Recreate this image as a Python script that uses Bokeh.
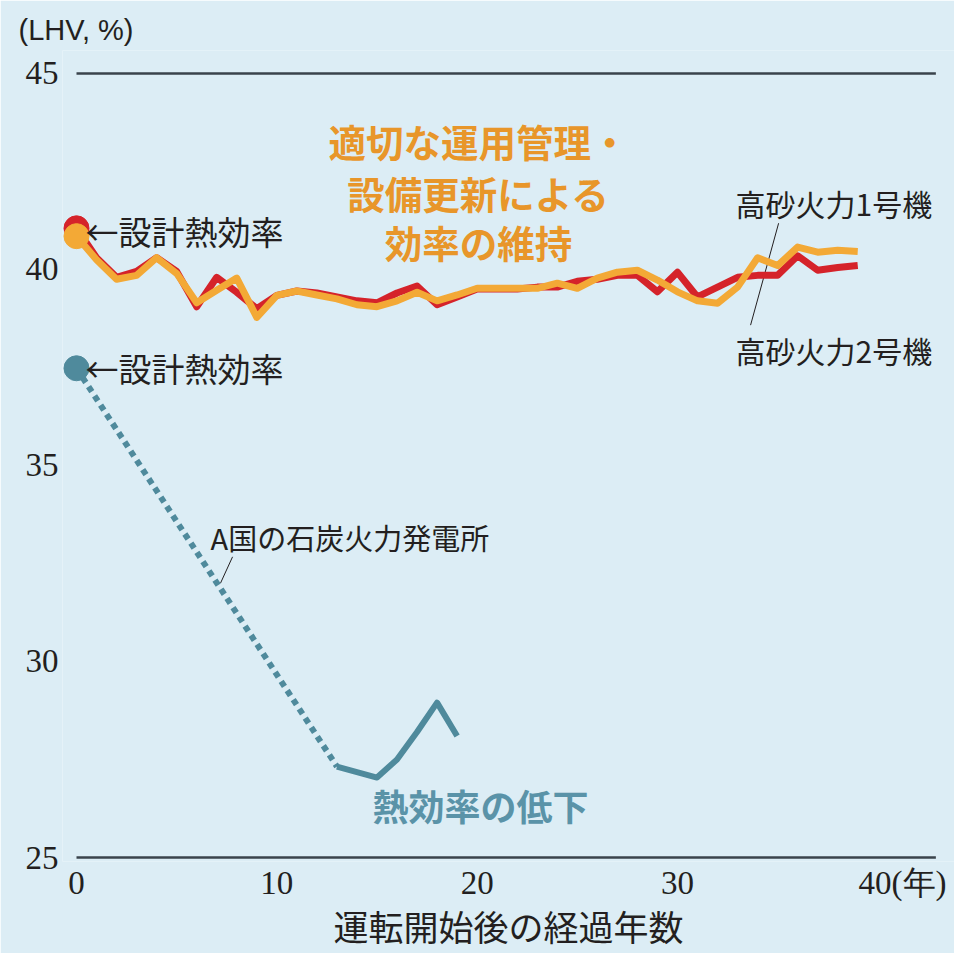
from bokeh.plotting import figure
from bokeh.models import FixedTicker, Range1d
from bokeh.core.properties import value
from bokeh.embed import file_html
from bokeh.resources import INLINE

# ---- data ----
years = list(range(40))
unit1 = [41.05, 40.3, 39.8, 39.95, 40.3, 39.95, 39.05, 39.8, 39.42, 39.0,
         39.34, 39.45, 39.4, 39.3, 39.2, 39.15, 39.4, 39.58, 39.1, 39.3,
         39.5, 39.5, 39.5, 39.55, 39.55, 39.7, 39.75, 39.85, 39.85, 39.43,
         39.93, 39.3, 39.55, 39.8, 39.85, 39.85, 40.35, 39.98, 40.05, 40.1]
unit2 = [40.85, 40.25, 39.75, 39.85, 40.3, 39.9, 39.15, 39.47, 39.78, 38.78,
         39.34, 39.45, 39.35, 39.25, 39.1, 39.05, 39.2, 39.42, 39.2, 39.35,
         39.52, 39.52, 39.52, 39.52, 39.65, 39.52, 39.78, 39.93, 39.98, 39.73,
         39.43, 39.2, 39.14, 39.55, 40.3, 40.1, 40.57, 40.44, 40.49, 40.46]
a_trend_years = [0, 13]
a_trend_vals = [37.48, 27.32]
a_years = [13, 14, 15, 16, 17, 18, 19]
a_vals = [27.32, 27.18, 27.04, 27.5, 28.2, 28.95, 28.1]
x_ticks = [0, 10, 20, 30, 40]
y_ticks = [25, 30, 35, 40, 45]
x_unit = "(年)"
y_unit = "(LHV, %)"

# ---- style ----
BG = "#dcedf5"
DARK = "#231f20"
RED = "#d5232a"
ORANGE = "#f3a936"
ORANGE_TXT = "#e8962a"
TEAL = "#4f8a9c"
TEAL_TXT = "#5a93a8"
JP = "Noto Sans CJK JP"
XLINE_END = 42.9

p = figure(width=954, height=953, output_backend="svg", toolbar_location=None,
           x_range=Range1d(-0.699, 43.83), y_range=Range1d(24.898, 45.586),
           min_border_left=62, min_border_right=0, min_border_top=50,
           min_border_bottom=91)
p.background_fill_color = BG
p.border_fill_color = BG
p.outline_line_color = None
p.xgrid.visible = False
p.ygrid.visible = False

p.title.text = y_unit
p.title.align = "left"
p.title.offset = -44
p.title.standoff = 10
p.title.text_font = "Liberation Sans"
p.title.text_font_size = "29px"
p.title.text_font_style = "normal"
p.title.text_color = DARK

for ax in (p.xaxis, p.yaxis):
    ax.axis_line_color = None
    ax.major_tick_line_color = None
    ax.minor_tick_line_color = None
    ax.major_label_text_font = "Liberation Serif"
    ax.major_label_text_font_size = "33px"
    ax.major_label_text_color = DARK
p.yaxis.major_label_standoff = -2
p.xaxis.major_label_standoff = -3
p.xaxis.ticker = FixedTicker(ticks=x_ticks)
p.yaxis.ticker = FixedTicker(ticks=y_ticks)
# pad the last label on the left so that "40" stays centred on its tick
p.xaxis.major_label_overrides = {x_ticks[-1]: "\u2007\u2007\u2007" + str(x_ticks[-1]) + x_unit}
p.xaxis.axis_label = "運転開始後の経過年数"
p.xaxis.axis_label_text_font = JP
p.xaxis.axis_label_text_font_size = "35px"
p.xaxis.axis_label_text_font_style = "normal"
p.xaxis.axis_label_text_color = DARK
p.xaxis.axis_label_standoff = -4

# frame lines at 45 and 25
p.segment(x0=[0, 0], y0=[y_ticks[-1], y_ticks[0]], x1=[XLINE_END] * 2,
          y1=[y_ticks[-1], y_ticks[0]], line_color="#3a434b", line_width=2.5)

# leader lines
p.segment(x0=[35.05, 7.79], y0=[41.18, 32.67], x1=[33.65, 7.19], y1=[38.58, 32.0],
          line_color=DARK, line_width=1)

# Takasago lines
p.line(years, unit1, line_color=RED, line_width=7, line_join="round")
p.line(years, unit2, line_color=ORANGE, line_width=7, line_join="round")
p.scatter([years[0]], [unit1[0]], size=25, color=RED)
p.scatter([years[0]], [unit2[0]], size=25, color=ORANGE)

# Country A
p.line(a_trend_years, a_trend_vals, line_color=TEAL, line_width=6, line_dash="6 5")
p.line(a_years, a_vals, line_color=TEAL, line_width=6, line_join="round")
p.scatter([a_trend_years[0]], [a_trend_vals[0]], size=25, color=TEAL)

# annotations
p.text(x=[0.45, 0.45], y=[40.97, 37.48], text=["←設計熱効率", "←設計熱効率"],
       text_font=value(JP), text_font_size="33px", text_align="left",
       text_baseline="middle", text_color=DARK)
p.text(x=[32.9, 32.9], y=[41.69, 37.94], text=["高砂火力1号機", "高砂火力2号機"],
       text_font=value(JP), text_font_size="30px", text_align="left",
       text_baseline="middle", text_color=DARK)
p.text(x=[6.69], y=[33.18], text=["A国の石炭火力発電所"],
       text_font=value(JP), text_font_size="29px", text_align="left",
       text_baseline="middle", text_color=DARK)
p.text(x=[20.07] * 3, y=[43.29, 41.97, 40.72],
       text=["適切な運用管理・", "設備更新による", "効率の維持"],
       text_font=value(JP), text_font_size="37.5px", text_font_style="bold",
       text_align="center", text_baseline="middle", text_color=ORANGE_TXT)
p.text(x=[20.17], y=[26.35], text=["熱効率の低下"],
       text_font=value(JP), text_font_size="36px", text_font_style="bold",
       text_align="center", text_baseline="middle", text_color=TEAL_TXT)

open("out.html", "w").write(file_html(p, INLINE))
